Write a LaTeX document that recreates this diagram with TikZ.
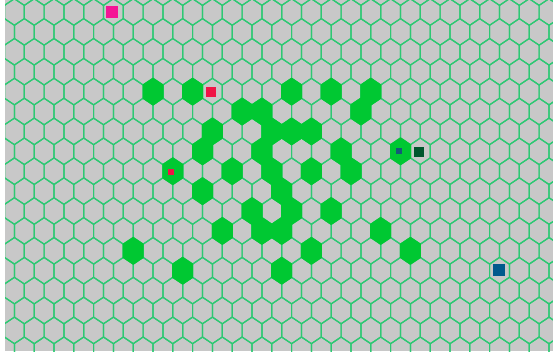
\documentclass[tikz,border=0pt]{standalone}
\usepackage{tikz}
\usetikzlibrary{positioning}
\definecolor{gridBg}{RGB}{200,200,200}
\definecolor{gridLine}{RGB}{45,200,115}
\definecolor{cellGreen}{RGB}{0,200,50}
\definecolor{antPink}{RGB}{245,20,150}
\definecolor{antRed}{RGB}{240,20,70}
\definecolor{antTeal}{RGB}{20,90,120}
\definecolor{antDark}{RGB}{0,85,45}
\definecolor{antBlue}{RGB}{0,90,140}
\begin{document}
\begin{tikzpicture}[
    x=1pt, y=-1pt,
    hexcell/.pic={\path[pic actions] (0,-13.27) -- (9.9,-6.63) -- (9.9,6.63) -- (0,13.27) -- (-9.9,6.63) -- (-9.9,-6.63) -- cycle;},
    gridhex/.style={draw=gridLine, line width=1.2pt},
    fullhex/.style={draw=cellGreen, fill=cellGreen, line width=1.2pt},
    marker/.style={rectangle, inner sep=0pt, draw=none}
]
\useasboundingbox[fill=white] (0,0) rectangle (553,351);
\fill[gridBg] (5,0) rectangle (553,351);
\begin{scope}
\clip (5,0) rectangle (553,351);
% the grid
\foreach \r in {-1,...,18}{
  \foreach \c in {-1,...,28}{
    \pgfmathsetmacro\hx{14.4+19.8*\c+9.9*mod(\r+2,2)}
    \pgfmathsetmacro\hy{12+19.9*\r}
    \pic[gridhex] at (\hx,\hy) {hexcell};
  }
}
% occupied cells
\foreach \r/\cols in {4/{7,9,14,16,18},5/{11,12,17},6/{10,13,14,15},7/{9,12,16,19},8/{8,11,13,15,17},9/{9,13},10/{12,14,16},11/{10,12,13,18},12/{6,15,20},13/{8,13}}{
  \foreach \c in \cols{
    \pgfmathsetmacro\hx{14.4+19.8*\c+9.9*mod(\r+2,2)}
    \pgfmathsetmacro\hy{12+19.9*\r}
    \pic[fullhex] at (\hx,\hy) {hexcell};
  }
}
\end{scope}
% markers
\node[marker, fill=antPink, minimum size=12pt] (pinkSq) at (112.2,11.7) {};
\node[marker, fill=antRed, minimum size=10pt] (redSq) at (210.7,92) {};
\node[marker, fill=antRed, minimum size=6pt] (redDot) at (170.7,171.5) {};
\node[marker, fill=antTeal, minimum size=6pt] (tealDot) at (399,151.3) {};
\node[marker, fill=antDark, minimum size=10pt] (darkSq) at (419,151.7) {};
\node[marker, fill=antBlue, minimum size=12pt] (blueSq) at (499,269.5) {};
\end{tikzpicture}
\end{document}
